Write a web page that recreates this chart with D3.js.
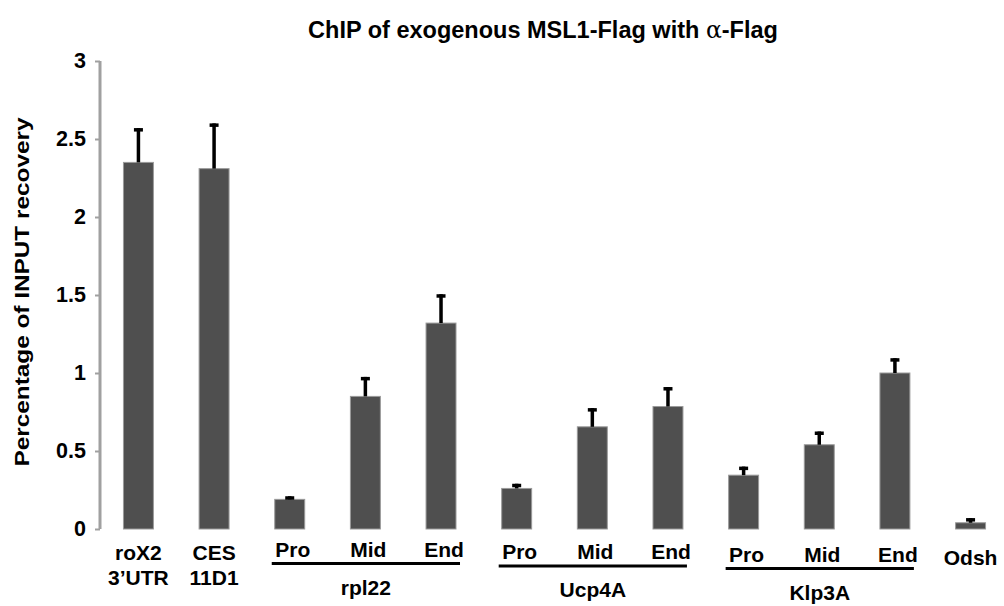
<!DOCTYPE html>
<html>
<head>
<meta charset="utf-8">
<script src="https://cdn.jsdelivr.net/npm/d3@7"></script>
<style>
  body { margin: 0; background: #fff; }
  text { font-family: Arial, "Liberation Sans", sans-serif; }
</style>
</head>
<body>
<div id="chart"></div>
<script>
// data
const categories = ['roX2', 'CES', 'rpl22-Pro', 'rpl22-Mid', 'rpl22-End',
  'Ucp4A-Pro', 'Ucp4A-Mid', 'Ucp4A-End', 'Klp3A-Pro', 'Klp3A-Mid', 'Klp3A-End', 'Odsh'];
const tickLabels = [
  ['roX2', '3\u2019UTR'], ['CES', '11D1'], ['Pro'], ['Mid'], ['End'],
  ['Pro'], ['Mid'], ['End'], ['Pro'], ['Mid'], ['End'], ['Odsh']
];
const values = [2.35, 2.31, 0.19, 0.85, 1.32, 0.26, 0.655, 0.785, 0.345, 0.54, 1.0, 0.04];
const errors = [0.22, 0.29, 0.02, 0.125, 0.185, 0.03, 0.12, 0.125, 0.055, 0.085, 0.095, 0.03];
const groups = [
  {name: 'rpl22', from: 'rpl22-Pro', to: 'rpl22-End'},
  {name: 'Ucp4A', from: 'Ucp4A-Pro', to: 'Ucp4A-End'},
  {name: 'Klp3A', from: 'Klp3A-Pro', to: 'Klp3A-End'}
];
const yTicks = [0, 0.5, 1, 1.5, 2, 2.5, 3];

const width = 1004;
const height = 606;

const x = d3.scaleBand().domain(categories).range([100, 1009])
  .paddingInner(0.604).paddingOuter(0.31);
const y = d3.scaleLinear().domain([0, 3]).range([529, 61]);

const svg = d3.select('#chart').append('svg')
  .attr('width', width).attr('height', height);

// title
const title = svg.append('text')
  .attr('x', 543).attr('y', 38)
  .attr('text-anchor', 'middle')
  .attr('font-size', 23.5).attr('font-weight', 'bold')
  .attr('fill', '#000');
title.append('tspan').text('ChIP of exogenous MSL1-Flag with ');
title.append('tspan').attr('font-weight', 'normal')
  .attr('font-family', '"DejaVu Serif", serif').text('\u03b1');
title.append('tspan').text('-Flag');

// y axis
const yAxis = d3.axisLeft(y).tickValues(yTicks).tickSize(5).tickPadding(9)
  .tickFormat(d3.format('~g'));
const axisG = svg.append('g').attr('transform', 'translate(100,0)').call(yAxis);
axisG.select('.domain').attr('stroke', '#a0a0a0').attr('stroke-width', 3)
  .attr('d', 'M0,' + y(3) + 'V' + y(0));
axisG.selectAll('.tick line').attr('stroke', '#a0a0a0').attr('stroke-width', 2);
axisG.selectAll('.tick text')
  .attr('font-size', 21.5).attr('font-weight', 'bold').attr('fill', '#000')
  .attr('font-family', 'Arial, "Liberation Sans", sans-serif');

svg.append('text')
  .attr('transform', 'translate(29,' + 292 + ') rotate(-90)')
  .attr('text-anchor', 'middle')
  .attr('font-size', 21).attr('font-weight', 'bold').attr('fill', '#000')
  .attr('textLength', 349).attr('lengthAdjust', 'spacingAndGlyphs')
  .text('Percentage of INPUT recovery');

// bars
svg.append('g').selectAll('rect').data(categories).enter().append('rect')
  .attr('x', d => x(d))
  .attr('y', (d, i) => y(values[i]))
  .attr('width', x.bandwidth())
  .attr('height', (d, i) => y(0) - y(values[i]))
  .attr('fill', '#4f4f4f')
  .attr('stroke', '#9a9a9a').attr('stroke-width', 1);

// error bars (upper only)
const errG = svg.append('g');
errG.selectAll('line').data(categories).enter().append('line')
  .attr('x1', d => x(d) + x.bandwidth() / 2)
  .attr('x2', d => x(d) + x.bandwidth() / 2)
  .attr('y1', (d, i) => y(values[i]))
  .attr('y2', (d, i) => y(values[i] + errors[i]))
  .attr('stroke', '#000').attr('stroke-width', 3.5);
errG.selectAll('rect').data(categories).enter().append('rect')
  .attr('x', d => x(d) + x.bandwidth() / 2 - 4.5)
  .attr('y', (d, i) => y(values[i] + errors[i]))
  .attr('width', 9).attr('height', 3.5)
  .attr('fill', '#000');

// group brackets and names
const lineY = {};
const gG = svg.append('g');
groups.forEach((g, i) => {
  const x0 = x(g.from) - 3;
  const x1 = x(g.to) + x.bandwidth() + 4;
  const ly = 563.5 + i * 2.5;
  categories.forEach(c => { if (c.startsWith(g.name)) lineY[c] = ly; });
  gG.append('line')
    .attr('x1', x0).attr('x2', x1).attr('y1', ly).attr('y2', ly)
    .attr('stroke', '#000').attr('stroke-width', 3);
  gG.append('text')
    .attr('x', (x0 + x1) / 2).attr('y', ly + 31)
    .attr('text-anchor', 'middle')
    .attr('font-size', 21).attr('font-weight', 'bold').attr('fill', '#000')
    .text(g.name);
});

// category labels
const labelG = svg.append('g');
categories.forEach((c, i) => {
  const lines = tickLabels[i];
  const cx = x(c) + x.bandwidth() / 2 + (lineY[c] ? 3 : 0);
  let ty = 560;
  if (lineY[c]) ty = lineY[c] - 7;
  else if (c === 'Odsh') ty = 565;
  const t = labelG.append('text')
    .attr('x', cx).attr('y', ty)
    .attr('text-anchor', 'middle')
    .attr('font-size', 21).attr('font-weight', 'bold').attr('fill', '#000');
  lines.forEach((l, k) => {
    t.append('tspan').attr('x', cx).attr('dy', k === 0 ? 0 : 25).text(l);
  });
});
</script>
</body>
</html>
